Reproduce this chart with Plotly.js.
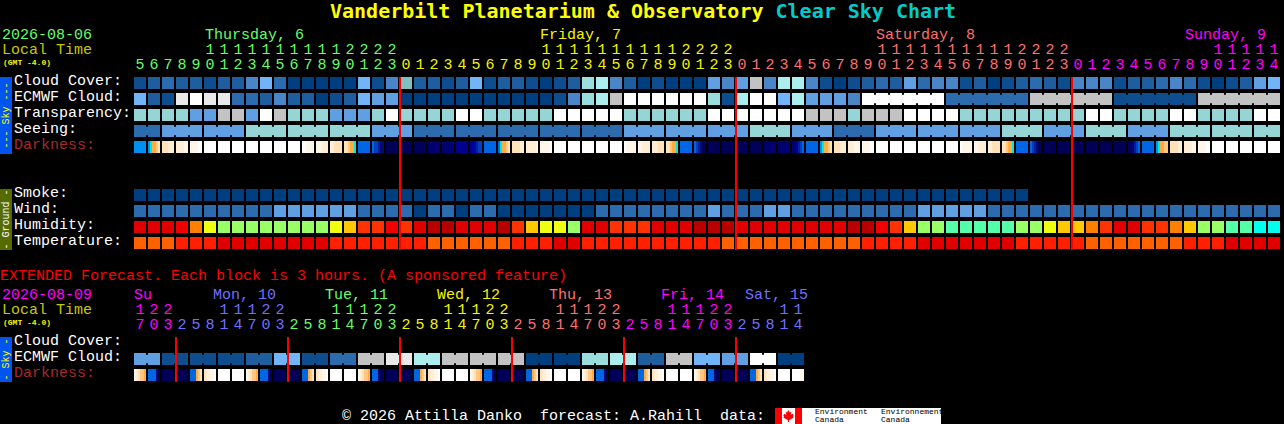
<!DOCTYPE html>
<html><head><meta charset="utf-8">
<script src="https://cdn.plot.ly/plotly-3.0.1.min.js"></script>
<style>html,body{margin:0;padding:0;background:#000;overflow:hidden}#c{width:1284px;height:424px}</style>
</head><body><div id="c"></div>
<script>
/* ---- forecast data (levels) ---- */
const hoursMain=[5,6,7,8,9,10,11,12,13,14,15,16,17,18,19,20,21,22,23,0,1,2,3,4,5,6,7,8,9,10,11,12,13,14,15,16,17,18,19,20,21,22,23,0,1,2,3,4,5,6,7,8,9,10,11,12,13,14,15,16,17,18,19,20,21,22,23,0,1,2,3,4,5,6,7,8,9,10,11,12,13,14];
const hoursExt=[17,20,23,2,5,8,11,14,17,20,23,2,5,8,11,14,17,20,23,2,5,8,11,14,17,20,23,2,5,8,11,14,17,20,23,2,5,8,11,14,17,20,23,2,5,8,11,14];
const cloudCover=[1,2,3,2,2,1,2,2,4,6,3,0,0,0,0,0,6,1,4,12,2,2,1,2,6,1,2,2,1,0,1,2,7,8,4,2,0,1,0,0,0,5,4,5,9,4,8,8,4,1,0,1,2,3,2,5,3,4,4,1,2,0,1,2,3,2,1,4,4,4,1,2,2,3,4,3,1,0,1,2,5,6];
const ecmwfCloud=[6,2,1,10,11,10,10,3,3,2,4,2,2,0,1,2,6,5,5,0,0,0,0,0,0,0,0,0,0,0,1,4,7,8,9,11,11,11,11,11,11,7,1,8,11,11,6,8,5,5,5,4,11,11,11,11,11,11,3,3,3,3,3,3,9,9,9,9,9,9,1,1,1,1,1,1,9,9,9,9,9,9];
const transparency=[3,3,3,3,2,2,4,4,2,5,4,3,3,3,2,2,2,3,5,3,3,3,3,5,5,3,3,3,3,3,5,5,5,5,5,3,3,3,3,3,3,5,5,5,5,5,5,5,4,4,4,3,4,4,4,5,5,5,5,3,3,3,3,3,3,3,3,3,5,5,3,3,3,3,5,5,3,3,3,3,5,5];
const seeing=[1,1,2,2,2,2,2,2,3,3,3,3,3,3,3,3,3,2,2,2,1,1,1,1,1,1,1,1,1,1,1,1,1,1,1,2,2,2,2,2,2,2,2,2,3,3,3,2,2,2,1,1,1,2,2,2,2,2,2,2,2,2,3,3,3,2,2,2,3,3,3,2,2,2,3,3,3,3,3,3,3,3];
const darknessMain=[7,[7,6,5,5,4,3],[3,3,3,2,2,2],[2,2,2,2,1,1],[1,1,1,1,0,0],0,0,0,0,0,0,0,[0,0,1,1,1,1],[1,1,1,2,2,2],[2,2,3,3,3,3],[3,3,4,5,5,6],8,[8,9,9,10,11,11],12,12,12,13,13,14,[14,15,15,10,9,9],8,[8,6,5,5,4,3],[3,3,3,3,2,2],[2,2,2,2,2,1],[1,1,1,1,1,0],0,0,0,0,0,[0,1,1,1,1,1],[1,1,2,2,2,2],[2,2,2,3,3,3],[3,3,4,5,5,6],8,[8,9,10,11,12,12],12,12,12,12,13,13,[13,13,14,10,9,8],8,[7,6,5,5,4,3],[3,3,3,2,2,2],[2,2,2,1,1,1],[1,1,1,1,0,0],0,0,0,0,0,0,[0,1,1,1,1,1],[1,1,2,2,2,2],[2,2,3,3,3,3],[3,3,4,5,5,6],8,[8,9,10,11,12,12],12,12,12,12,12,12,[12,13,13,10,9,8],8,[7,6,5,5,4,4],[3,3,3,3,2,2],[2,2,2,2,1,1],[1,1,1,1,0,0],0,0,0,0,0];
const smoke=[0,0,0,0,0,0,0,0,0,0,0,0,0,0,0,0,0,0,0,0,0,0,0,0,0,0,0,0,0,0,0,0,0,0,0,0,0,0,0,0,0,0,0,0,0,0,0,0,0,0,0,0,0,0,0,0,0,0,0,0,0,0,0,0];
const wind=[1,1,1,1,1,1,1,1,1,1,2,2,2,2,2,2,1,1,1,1,0,1,1,0,1,1,0,0,0,0,0,0,0,1,1,1,1,1,1,1,1,2,1,1,1,2,2,1,1,1,1,1,1,1,1,1,2,2,2,2,2,1,1,1,1,1,1,1,1,1,1,1,1,1,1,1,1,1,1,1,1,1];
const humidity=[8,8,8,7,5,3,2,2,2,2,2,2,2,2,3,4,6,6,7,6,8,9,9,8,8,8,9,6,4,3,3,2,8,8,6,6,6,8,8,8,9,9,9,8,8,8,8,8,8,8,8,9,9,7,6,4,2,2,1,1,1,1,1,2,2,3,4,4,5,6,8,8,6,6,5,4,2,2,1,1,0,0];
const temperature=[0,0,0,1,1,1,2,2,2,2,2,2,2,2,1,1,1,1,1,1,1,0,0,0,0,0,0,1,1,1,2,2,1,1,1,1,1,1,1,1,1,1,0,0,0,0,0,0,0,0,0,0,1,1,1,1,2,2,2,2,2,2,2,1,1,1,1,1,0,0,0,0,0,0,0,1,1,1,2,2,2,2];
const extEcmwf=[5,1,1,1,2,6,1,3,9,10,8,9,9,9,0,0,7,8,2,9,6,5,11,0];
const darknessExt=[[1,2,3,4,4,5],[8,8,8,8,11,12],12,12,[8,8,8,5,4,3],[3,2,2,1,1,0],0,0,[1,2,3,4,4,5],[8,8,8,8,11,12],12,12,[8,8,8,5,4,3],[3,2,2,1,1,0],0,0,[1,2,3,4,4,5],[8,8,8,11,12,12],12,12,[8,8,8,5,4,3],[3,2,2,1,1,0],0,0,[1,2,3,4,4,5],[8,8,8,8,11,12],12,12,[8,8,8,5,4,3],[3,2,2,1,1,0],0,0,[1,2,3,4,4,5],[8,8,8,8,11,12],12,12,[8,8,8,5,4,3],[3,2,2,1,1,0],0,0,[1,2,3,4,4,5],[8,8,8,11,12,12],12,12,[8,8,8,5,4,3],[3,2,2,1,1,0],0,[0,0,0,0,1,1]];
const dayBreaksMain=[19,43,67];
const dayBreaksExt=[3,11,19,27,35,43];

/* ---- palettes ---- */
const cloudColors=['#003f7f','#0f4e8e','#1f5e9e','#2c6bad','#4a85c8','#5f9fe2','#72b4f8','#99dddd','#aceeee','#c3c3c3','#e9e9e9','#ffffff','#80c0c0'];
const skyColors=['#003f7f','#2c6bad','#5f9fe2','#95d5d5','#c3c3c3','#ffffff'];
const humidityColors=['#00ffee','#55ffaa','#99ff66','#eeff11','#ffc800','#ff8000','#ff3300','#f00000','#e00000','#b90000'];
const temperatureColors=['#ff6000','#ff2000','#e00000'];
const darknessColors=['#ffffff','#fff6ea','#ffeed6','#ffe2b8','#ffc880','#ffac40','#00e8e8','#0090f0','#0066e6','#0040c0','#0020a0','#000a70','#000058','#000070','#000090','#0000a8'];
const dayColorsMain=['#66ff66','#f5f500','#ff7070','#ff00ff'];
const dayColorsExt=['#ff00ff','#7070ff','#66ff66','#f5f500','#ff7070','#ff00ff','#7070ff'];

/* ---- helpers ---- */
const W=1284,H=424,MONO='"Liberation Mono",monospace',CELL=6/14;
const idx=a=>a.map((_,i)=>i);
function cells(vals,y,pal){return{type:'scatter',mode:'markers',x:idx(vals),y:vals.map(()=>y),cliponaxis:false,hoverinfo:'skip',
  marker:{symbol:'square',size:12,line:{width:0},color:vals.map(v=>pal[v])}};}
function bridges(cols,colors,y){return{type:'scatter',mode:'markers',x:cols,y:cols.map(()=>y),hoverinfo:'skip',
  marker:{symbol:'line-ns-open',size:6,color:colors,line:{width:2}}};}
function darkHeat(vals,y){
  const xe=[],z=[];
  vals.forEach((v,c)=>{const s=Array.isArray(v)?v:[v,v,v,v,v,v];
    s.forEach((q,k)=>{xe.push(c-CELL+k*2/14);z.push(q);});
    if(c<vals.length-1){xe.push(c+CELL);z.push(null);}else xe.push(c+CELL);});
  return{type:'heatmap',x:xe,y:[y-6,y+6],z:[z],zmin:0,zmax:darknessColors.length-1,showscale:false,hoverinfo:'skip',
    colorscale:darknessColors.map((col,i)=>[i/(darknessColors.length-1),col])};
}
function dayOf(hrs){let d=0,prev=hrs[0];return hrs.map(h=>{if(h<prev)d++;prev=h;return d;});}
function digitRows(hrs,palette,yTens,yUnits){
  const day=dayOf(hrs),col=day.map(d=>palette[d]);
  const tc=[],tt=[],tk=[];hrs.forEach((h,i)=>{if(h>=10){tc.push(i);tt.push(String(Math.floor(h/10)));tk.push(col[i]);}});
  const base={type:'scatter',mode:'text',textposition:'middle center',cliponaxis:false,hoverinfo:'skip'};
  return[Object.assign({},base,{x:tc,y:tc.map(()=>yTens),text:tt,textfont:{family:MONO,size:15,color:tk}}),
         Object.assign({},base,{x:idx(hrs),y:hrs.map(()=>yUnits),text:hrs.map(h=>String(h%10)),textfont:{family:MONO,size:15,color:col}})];
}
function label(text,x,y,color,size,extra){return Object.assign({text,x:x/W,xref:'paper',y,yref:'y',xanchor:'left',yanchor:'middle',align:'left',showarrow:false,
  borderpad:0,borderwidth:0,font:{family:MONO,size:size||15,color}},extra||{});}
const pxCol=p=>(p-140)/14;

/* ---- traces ---- */
const sameRunEcmwf=[],sameRunEcmwfC=[];
ecmwfCloud.forEach((v,c)=>{if(c>=52&&c<81&&(c-52)%6!==5){sameRunEcmwf.push(c+.5);sameRunEcmwfC.push(cloudColors[v]);}});
const seeBr=[],seeBrC=[];
seeing.forEach((v,c)=>{if(c<81&&(c-1)%3!==0){seeBr.push(c+.5);seeBrC.push(skyColors[v]);}});
const extCells=[];extEcmwf.forEach(v=>{extCells.push(v,v);});
const extBr=extEcmwf.map((_,p)=>2*p+.5),extBrC=extEcmwf.map(v=>cloudColors[v]);

const traces=[
  cells(cloudCover,83,cloudColors),
  cells(ecmwfCloud,99,cloudColors),bridges(sameRunEcmwf,sameRunEcmwfC,99),
  cells(transparency,115,skyColors),
  cells(seeing,131,skyColors),bridges(seeBr,seeBrC,131),
  darkHeat(darknessMain,147),
  cells(smoke,195,skyColors),
  cells(wind,211,skyColors),
  cells(humidity,227,humidityColors),
  cells(temperature,243,temperatureColors),
  cells(extCells,359,cloudColors),bridges(extBr,extBrC,359),
  darkHeat(darknessExt,375),
  ...digitRows(hoursMain,dayColorsMain,50,65),
  ...digitRows(hoursExt,dayColorsExt,310,325)
];

/* ---- red day lines and side bars ---- */
const shapes=[];
dayBreaksMain.forEach(c=>shapes.push({type:'line',xref:'x',yref:'y',x0:c-CELL,x1:c-CELL,y0:77,y1:250,line:{color:'#ff0000',width:2},layer:'above'}));
dayBreaksExt.forEach(c=>shapes.push({type:'line',xref:'x',yref:'y',x0:c-CELL,x1:c-CELL,y0:337,y1:382,line:{color:'#ff0000',width:2},layer:'above'}));
function rect(x0,x1,y0,y1,color){return{type:'rect',xref:'x',yref:'y',x0:pxCol(x0),x1:pxCol(x1),y0,y1,fillcolor:color,line:{width:0},layer:'below'};}
shapes.push(rect(0,12,77,154,'#0055ee'),rect(0,12,189,250,'#556b00'),rect(0,12,337,382,'#0055ee'));
shapes.push(rect(775,941,408,424,'#ffffff'),rect(775,782,408,424,'#ff0000'),rect(795,802,408,424,'#ff0000'));
const leaf=[[0,-6],[1.4,-3.5],[2.8,-4.2],[2.2,-1],[4,-2.2],[5.2,-.8],[4.5,.8],[5.2,1.6],[1,4],[.5,3.6],[.5,6],[-.5,6],[-.5,3.6],[-1,4],[-5.2,1.6],[-4.5,.8],[-5.2,-.8],[-4,-2.2],[-2.2,-1],[-2.8,-4.2],[-1.4,-3.5]];
shapes.push({type:'path',xref:'x',yref:'y',path:'M'+leaf.map(p=>pxCol(788.5+p[0])+','+(416+p[1])).join('L')+'Z',fillcolor:'#ff0000',line:{width:0},layer:'above'});

/* ---- text ---- */
const annotations=[
  label('2026-08-06',2,35,'#66ff66'),label('Local Time',2,50,'#c8c800'),label('<b>(GMT -4.0)</b>',3,62,'#f5f500',8),
  label('Thursday, 6',205,35,dayColorsMain[0]),label('Friday, 7',540,35,dayColorsMain[1]),label('Saturday, 8',876,35,dayColorsMain[2]),label('Sunday, 9',1185,35,dayColorsMain[3]),
  label('Cloud Cover:',14,81,'#fff'),label('ECMWF Cloud:',14,97,'#fff'),label('Transparency:',14,113,'#fff'),label('Seeing:',14,129,'#fff'),label('Darkness:',14,145,'#a52a2a'),
  label('Smoke:',14,193,'#fff'),label('Wind:',14,209,'#fff'),label('Humidity:',14,225,'#fff'),label('Temperature:',14,241,'#fff'),
  label('EXTENDED Forecast. Each block is 3 hours. (A sponsored feature)',0,276,'#ff0000'),
  label('2026-08-09',2,295,'#ff00ff'),label('Local Time',2,310,'#c8c800'),label('<b>(GMT -4.0)</b>',3,322,'#f5f500',8),
  label('Su',134,295,'#ff00ff'),label('Mon, 10',213,295,'#7070ff'),label('Tue, 11',325,295,'#66ff66'),label('Wed, 12',437,295,'#f5f500'),label('Thu, 13',549,295,'#ff7070'),label('Fri, 14',661,295,'#ff00ff'),label('Sat, 15',745,295,'#7070ff'),
  label('Cloud Cover:',14,341,'#fff'),label('ECMWF Cloud:',14,357,'#fff'),label('Darkness:',14,373,'#a52a2a'),
  label('\u00a9 2026 Attilla Danko  forecast: A.Rahill  data:',342,416,'#fff'),
  label('Environment',815,411.5,'#000',8),label('Canada',815,419.5,'#000',8),label('Environnement',881,411.5,'#000',8),label('Canada',881,419.5,'#000',8),
  {text:'--- Sky ---',x:6/W,xref:'paper',y:115.5,yref:'y',xanchor:'center',yanchor:'middle',textangle:-90,showarrow:false,borderpad:0,font:{family:MONO,size:10,color:'#ffff00'}},
  {text:'- Ground -',x:6/W,xref:'paper',y:219.5,yref:'y',xanchor:'center',yanchor:'middle',textangle:-90,showarrow:false,borderpad:0,font:{family:MONO,size:10,color:'#ffffff'}},
  {text:'- Sky -',x:6/W,xref:'paper',y:359.5,yref:'y',xanchor:'center',yanchor:'middle',textangle:-90,showarrow:false,borderpad:0,font:{family:MONO,size:10,color:'#ffff00'}}
];

const layout={width:W,height:H,margin:{l:0,r:0,t:0,b:0,pad:0},paper_bgcolor:'#000',plot_bgcolor:'#000',showlegend:false,hovermode:false,
  title:{text:'<b>Vanderbilt Planetarium &amp; Observatory <span style="color:#00cccc">Clear Sky Chart</span></b>',
    x:330/W,xref:'paper',xanchor:'left',y:1-11/H,yref:'paper',yanchor:'middle',font:{family:'"DejaVu Sans Mono",monospace',size:20,color:'#ffff00'}},
  xaxis:{range:[pxCol(0),pxCol(W)],visible:false,fixedrange:true},
  yaxis:{range:[H,0],visible:false,fixedrange:true},
  shapes,annotations};
Plotly.newPlot('c',traces,layout,{staticPlot:true,displayModeBar:false,responsive:false});
</script></body></html>
